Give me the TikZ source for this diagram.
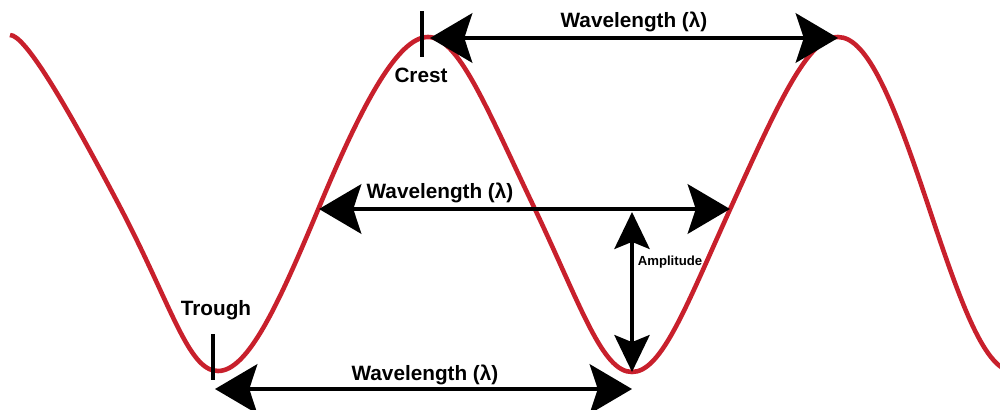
\documentclass[tikz,border=0pt]{standalone}
\usepackage{fontspec}
\setmainfont{Liberation Sans}
\usetikzlibrary{arrows.meta}
\definecolor{wavered}{RGB}{200,32,44}

\begin{document}
\begin{tikzpicture}[x=0.02cm, y=-0.02cm,
	wave/.style={draw=wavered, line width=2.6pt},
	span/.style={line width=2.8pt, {Stealth[length=24pt,width=28pt,inset=4.5pt]}-{Stealth[length=24pt,width=28pt,inset=4.5pt]}},
	ampl/.style={line width=2.4pt, {Stealth[length=21pt,width=20pt,inset=4pt]}-{Stealth[length=21pt,width=20pt,inset=4pt]}},
	tickline/.style={line width=2.6pt},
	lbl/.style={font=\fontsize{11.8}{14}\selectfont\bfseries, anchor=base, inner sep=0pt}]
	
	\useasboundingbox (0,0) rectangle (1000,409);
	
	% the wave
	\draw[wave] (10,35) .. controls (25,35) and (65.3,103) .. (119,205)
		.. controls (171.4,304.6) and (188,371) .. (218,371)
		.. controls (248,371) and (278.5,304.6) .. (320,205)
		.. controls (362,104.2) and (398,37) .. (428,37)
		.. controls (458,37) and (485,104.2) .. (533,205)
		.. controls (580.7,305.2) and (602,372) .. (632,372)
		.. controls (662,372) and (686.5,305.2) .. (732,205)
		.. controls (777.8,104.2) and (808,37) .. (838,37)
		.. controls (868,37) and (894.4,104.2) .. (928,205)
		.. controls (961.4,305.2) and (985,372) .. (1015,372);
	
	\coordinate (crestL) at (430,38);
	\coordinate (crestR) at (838,38);
	\coordinate (midL) at (319,209);
	\coordinate (midR) at (730,209);
	\coordinate (lowL) at (215,389);
	\coordinate (lowR) at (632,389);
	\coordinate (amplTop) at (632,212);
	\coordinate (amplBot) at (632,372);
	\coordinate (ctickTop) at (422,11);
	\coordinate (ctickBot) at (422,57);
	\coordinate (ttickTop) at (213,334);
	\coordinate (ttickBot) at (213,380);
	
	\draw[tickline] (ctickTop) -- (ctickBot);
	\draw[tickline] (ttickTop) -- (ttickBot);
	
	\draw[span] (crestL) -- (crestR);
	\draw[span] (midL) -- (midR);
	\draw[span] (lowL) -- (lowR);
	\draw[ampl] (amplTop) -- (amplBot);
	
	\node[lbl] (wlTop) at (634,28) {Wavelength (λ)};
	\node[lbl] (wlMid) at (440,198) {Wavelength (λ)};
	\node[lbl] (wlLow) at (425,380) {Wavelength (λ)};
	\node[lbl] (crest) at (421,82) {Crest};
	\node[lbl] (trough) at (216,315) {Trough};
	\node[lbl, font=\fontsize{7.5}{9}\selectfont\bfseries] (amp) at (670,265) {Amplitude};
	
\end{tikzpicture}
\end{document}
